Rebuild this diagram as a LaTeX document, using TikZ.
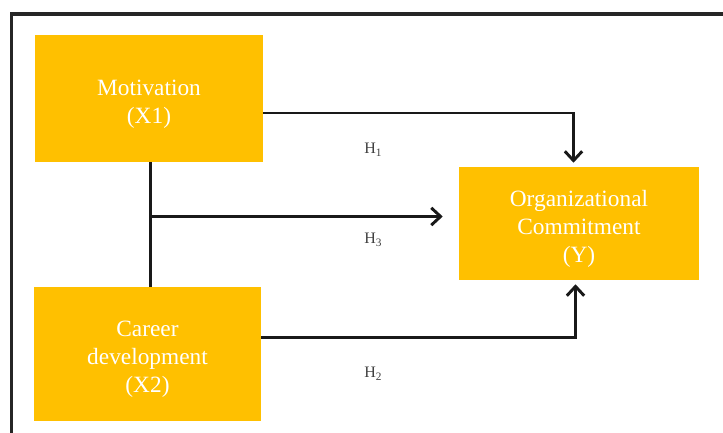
\documentclass[tikz,border=0pt]{standalone}
\usepackage{fontspec}
\setmainfont{Liberation Serif}
\usetikzlibrary{arrows.meta,calc}
\definecolor{boxyellow}{HTML}{FFC000}
\definecolor{labgray}{HTML}{404040}
\newcommand{\hsub}[1]{H\raisebox{-2.5pt}{\fontsize{8.5}{9}\selectfont #1}}
\newcommand{\lowstrut}{\rule{0pt}{20pt}}
\tikzset{
  box/.style={fill=boxyellow, draw=none, text=white, align=center, inner sep=0pt,
    font=\fontsize{17.5}{21}\selectfont},
  conn/.style={line width=2.2pt, draw=black!90},
  arr/.style={conn, -{Straight Barb[length=7pt,width=13pt,line width=2.2pt]}},
  hlab/.style={text=labgray, font=\fontsize{12}{14}\selectfont, inner sep=0pt}
}
\begin{document}
\begin{tikzpicture}[x=0.75pt,y=-0.75pt]
\useasboundingbox (0,0) rectangle (723,432);
\fill[white] (0,0) rectangle (723,432);
\begin{scope}
\clip (0,0) rectangle (723,432);
\draw[line width=2.4pt, black!85] (11.5,445) -- (11.5,14) -- (740,14);
\end{scope}
\node[box, minimum width=228*0.75pt, minimum height=127*0.75pt] (mot) at (149,98.5) {\lowstrut Motivation\\(X1)};
\node[box, minimum width=227*0.75pt, minimum height=134*0.75pt] (car) at (147.5,354) {\lowstrut Career\\development\\(X2)};
\node[box, minimum width=240*0.75pt, minimum height=113*0.75pt] (org) at (579,223.5) {\lowstrut Organizational\\Commitment\\(Y)};
\coordinate (j) at (150.5,216.5);
\coordinate (t1) at (573.5,113);
\coordinate (t2) at (575.5,337.5);
\draw[conn] (mot.south -| j) -- (car.north -| j);
\draw[arr, shorten >=3pt] (mot.east |- t1) -| (org.north -| t1);
\draw[arr, shorten >=12pt] (j) -- (org.west |- j);
\draw[arr, shorten >=3pt] (car.east |- t2) -| (org.south -| t2);
\node[hlab] (h1) at (373,150) {\hsub{1}};
\node[hlab] (h3) at (373,240) {\hsub{3}};
\node[hlab] (h2) at (373,374) {\hsub{2}};
\end{tikzpicture}
\end{document}
